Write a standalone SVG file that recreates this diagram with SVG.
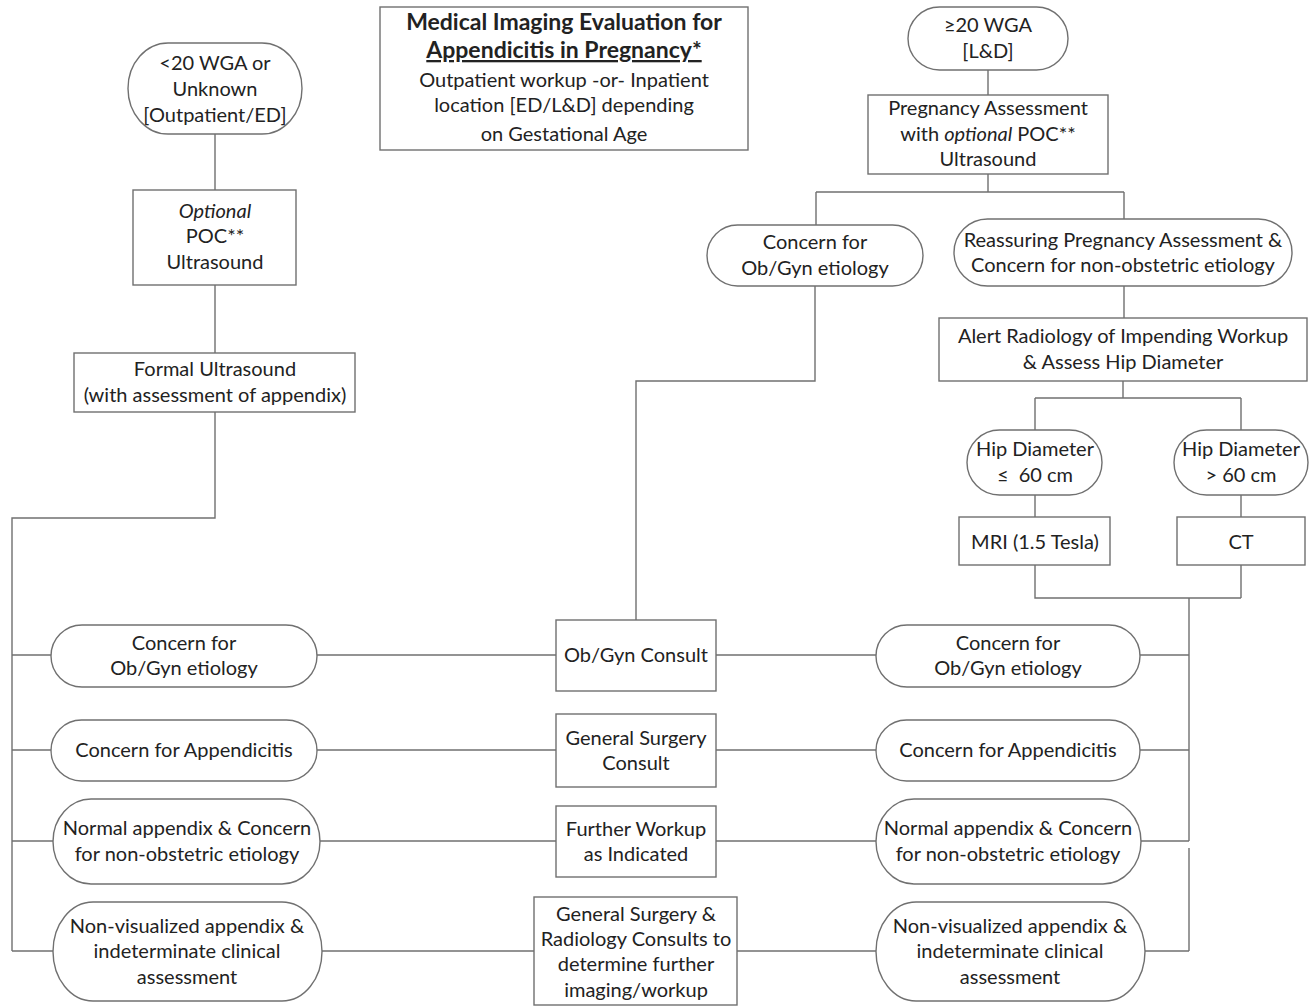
<svg xmlns="http://www.w3.org/2000/svg" width="1314" height="1006" viewBox="0 0 1314 1006">
<style>
  .bx { fill: #fff; stroke: #707070; stroke-width: 1.4; }
  .ln { fill: none; stroke: #707070; stroke-width: 1.4; }
  text { font-family: Lato, "Liberation Sans", sans-serif; font-size: 20px; fill: #222; text-anchor: middle; }
  .b { font-weight: bold; font-size: 23px; }
  .i { font-style: italic; }
  .pre { white-space: pre; }
</style>
<rect width="1314" height="1006" fill="#fff"/>
<g id="connectors">
  <path class="ln" d="M215,134 V190 M215,285 V353 M215,412 V518 H12 V951 M12,655 H51 M12,750 H51 M12,841 H53 M12,951 H53"/>
  <path class="ln" d="M317,655 H556 M317,750 H556 M320,841 H556 M322,951 H534"/>
  <path class="ln" d="M716,655 H876 M716,750 H876 M716,841 H876 M737,951 H876"/>
  <path class="ln" d="M988,70 V95 M988,174 V192 M816,192 H1124 M816,192 V225 M1124,192 V219"/>
  <path class="ln" d="M815,286 V381 H636 V620"/>
  <path class="ln" d="M1124,286 V318 M1123,381 V398 M1035,398 H1241 M1035,398 V430 M1241,398 V430"/>
  <path class="ln" d="M1035,495 V517 M1241,495 V517 M1035,565 V598 H1241 M1241,565 V598 M1189,598 V841 M1189,848 V951"/>
  <path class="ln" d="M1140,655 H1189 M1140,750 H1189 M1141,841 H1189 M1145,951 H1189"/>
</g>
<g id="title">
  <rect class="bx" x="380" y="7" width="368" height="143"/>
  <text class="b" x="564" y="30">Medical Imaging Evaluation for</text>
  <text class="b" x="564" y="58" text-decoration="underline">Appendicitis in Pregnancy*</text>
  <text x="564" y="87">Outpatient workup -or- Inpatient</text>
  <text x="564" y="112">location [ED/L&amp;D] depending</text>
  <text x="564" y="141">on Gestational Age</text>
</g>
<g id="lt20">
  <rect class="bx" x="128" y="43" width="174" height="91" rx="40" ry="45.5"/>
  <text x="215" y="70">&lt;20 WGA or</text>
  <text x="215" y="96">Unknown</text>
  <text x="215" y="122">[Outpatient/ED]</text>
</g>
<g id="optpoc">
  <rect class="bx" x="133" y="190" width="163" height="95"/>
  <text class="i" x="215" y="218">Optional</text>
  <text x="215" y="243">POC**</text>
  <text x="215" y="269">Ultrasound</text>
</g>
<g id="formalus">
  <rect class="bx" x="74" y="353" width="281" height="59"/>
  <text x="215" y="376">Formal Ultrasound</text>
  <text x="215" y="402">(with assessment of appendix)</text>
</g>
<g id="ge20">
  <rect class="bx" x="908" y="7" width="160" height="63" rx="31.5" ry="31.5"/>
  <text x="988" y="32">≥20 WGA</text>
  <text x="988" y="58">[L&amp;D]</text>
</g>
<g id="pregassess">
  <rect class="bx" x="868" y="95" width="240" height="79"/>
  <text x="988" y="115">Pregnancy Assessment</text>
  <text x="988" y="141">with <tspan class="i">optional</tspan> POC**</text>
  <text x="988" y="166">Ultrasound</text>
</g>
<g id="obgyn-top">
  <rect class="bx" x="707" y="225" width="216" height="61" rx="30.5" ry="30.5"/>
  <text x="815" y="249">Concern for</text>
  <text x="815" y="275">Ob/Gyn etiology</text>
</g>
<g id="reassuring">
  <rect class="bx" x="954" y="219" width="338" height="67" rx="33.5" ry="33.5"/>
  <text x="1123" y="247">Reassuring Pregnancy Assessment &amp;</text>
  <text x="1123" y="272">Concern for non-obstetric etiology</text>
</g>
<g id="alert">
  <rect class="bx" x="939" y="318" width="368" height="63"/>
  <text x="1123" y="343">Alert Radiology of Impending Workup</text>
  <text x="1123" y="369">&amp; Assess Hip Diameter</text>
</g>
<g id="hip-le">
  <rect class="bx" x="967" y="430" width="135" height="65" rx="32.5" ry="32.5"/>
  <text x="1035" y="456">Hip Diameter</text>
  <text class="pre" x="1035" y="482">≤  60 cm</text>
</g>
<g id="hip-gt">
  <rect class="bx" x="1174" y="430" width="134" height="65" rx="32.5" ry="32.5"/>
  <text x="1241" y="456">Hip Diameter</text>
  <text x="1241" y="482">&gt; 60 cm</text>
</g>
<g id="mri">
  <rect class="bx" x="959" y="517" width="151" height="48"/>
  <text x="1035" y="549">MRI (1.5 Tesla)</text>
</g>
<g id="ct">
  <rect class="bx" x="1177" y="517" width="128" height="48"/>
  <text x="1241" y="549">CT</text>
</g>
<g id="l-obgyn">
  <rect class="bx" x="51" y="625" width="266" height="62" rx="31" ry="31"/>
  <text x="184" y="650">Concern for</text>
  <text x="184" y="675">Ob/Gyn etiology</text>
</g>
<g id="l-append">
  <rect class="bx" x="51" y="720" width="266" height="61" rx="30.5" ry="30.5"/>
  <text x="184" y="757">Concern for Appendicitis</text>
</g>
<g id="l-normal">
  <rect class="bx" x="53" y="799" width="267" height="85" rx="38" ry="42.5"/>
  <text x="187" y="835">Normal appendix &amp; Concern</text>
  <text x="187" y="861">for non-obstetric etiology</text>
</g>
<g id="l-nonvis">
  <rect class="bx" x="53" y="902" width="269" height="99" rx="40" ry="49.5"/>
  <text x="187" y="933">Non-visualized appendix &amp;</text>
  <text x="187" y="958">indeterminate clinical</text>
  <text x="187" y="984">assessment</text>
</g>
<g id="obgyn-consult">
  <rect class="bx" x="556" y="620" width="160" height="71"/>
  <text x="636" y="662">Ob/Gyn Consult</text>
</g>
<g id="gensurg-consult">
  <rect class="bx" x="556" y="714" width="160" height="73"/>
  <text x="636" y="745">General Surgery</text>
  <text x="636" y="770">Consult</text>
</g>
<g id="further">
  <rect class="bx" x="556" y="806" width="160" height="71"/>
  <text x="636" y="836">Further Workup</text>
  <text x="636" y="861">as Indicated</text>
</g>
<g id="gsrad">
  <rect class="bx" x="534" y="897" width="203" height="108"/>
  <text x="636" y="921">General Surgery &amp;</text>
  <text x="636" y="946">Radiology Consults to</text>
  <text x="636" y="971">determine further</text>
  <text x="636" y="997">imaging/workup</text>
</g>
<g id="r-obgyn">
  <rect class="bx" x="876" y="625" width="264" height="62" rx="31" ry="31"/>
  <text x="1008" y="650">Concern for</text>
  <text x="1008" y="675">Ob/Gyn etiology</text>
</g>
<g id="r-append">
  <rect class="bx" x="876" y="720" width="264" height="61" rx="30.5" ry="30.5"/>
  <text x="1008" y="757">Concern for Appendicitis</text>
</g>
<g id="r-normal">
  <rect class="bx" x="876" y="799" width="265" height="85" rx="38" ry="42.5"/>
  <text x="1008" y="835">Normal appendix &amp; Concern</text>
  <text x="1008" y="861">for non-obstetric etiology</text>
</g>
<g id="r-nonvis">
  <rect class="bx" x="876" y="902" width="269" height="99" rx="40" ry="49.5"/>
  <text x="1010" y="933">Non-visualized appendix &amp;</text>
  <text x="1010" y="958">indeterminate clinical</text>
  <text x="1010" y="984">assessment</text>
</g>
</svg>
